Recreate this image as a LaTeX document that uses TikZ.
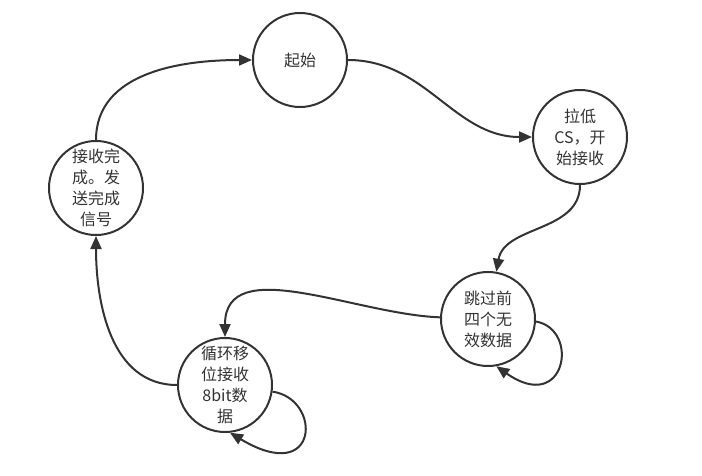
\documentclass[tikz,border=0pt]{standalone}
\usepackage{fontspec}
\setmainfont{Noto Sans CJK SC}
\usetikzlibrary{arrows.meta}
\definecolor{ink}{HTML}{333333}
\begin{document}
\begin{tikzpicture}[x=1pt,y=1pt,
  state/.style={draw=ink, line width=2pt, circle, minimum size=94pt, inner sep=0pt,
    align=center, text=ink, font=\fontsize{16}{21}\selectfont},
  trans/.style={draw=ink, line width=2pt, -{Triangle[length=13pt,width=11pt]}}]
\useasboundingbox (0,0) rectangle (702,475);
\node[state] (start) at (300,415) {起始};
\node[state] (cslow) at (580,338) {拉低\\CS，开\\始接收};
\node[state] (skip) at (488,156) {跳过前\\四个无\\效数据};
\node[state] (shift) at (225,90) {循环移\\位接收\\8bit数\\据};
\node[state] (done) at (96,287) {接收完\\成。发\\送完成\\信号};
\draw[trans] (start) to[out=0,in=180] (cslow);
\draw[trans] (cslow) to[out=-90,in=80] (skip);
\draw[trans] (skip) to[out=178,in=90] (shift);
\draw[trans] (shift) to[out=180,in=-90] (done);
\draw[trans] (done) to[out=90,in=180] (start);
\draw[trans] (skip.-3) .. controls +(-10:45) and +(-35:85) .. (skip.-80);
\draw[trans] (shift.-8) .. controls +(-8:50) and +(-31:105) .. (shift.-84);
\end{tikzpicture}
\end{document}
